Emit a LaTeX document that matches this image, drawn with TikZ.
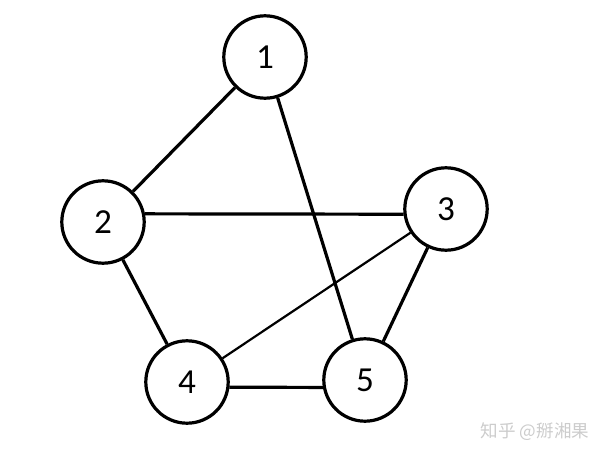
\documentclass[tikz,border=0pt]{standalone}
\usepackage{fontspec}
\setmainfont{Carlito}
\newfontfamily\cjk{Noto Sans CJK SC}
\usepackage{tikz}

\begin{document}
\begin{tikzpicture}[x=0.25mm,y=-0.25mm,
  vertex/.style={draw,circle,line width=0.8mm,minimum size=20.6mm,inner sep=0pt,font=\fontsize{25}{30}\selectfont},
  edge/.style={line width=0.8mm}]
\useasboundingbox (0,0) rectangle (608,458);
\node (n1) [vertex] at (265,57) {1};
\node (n2) [vertex] at (103,222) {2};
\node (n3) [vertex] at (446,209) {3};
\node (n4) [vertex] at (187,382) {4};
\node (n5) [vertex] at (365,380) {5};
\draw[edge] (n1) -- (n2);
\draw[edge] (n1) -- (n5);
\draw[edge] (n2.11) -- (n3.187);
\draw[edge] (n2) -- (n4);
\draw[edge] (n3) -- (n5);
\draw[edge] (n4.-7) -- (n5.190);
\draw[line width=0.55mm] (n3) -- (n4);
% watermark
\node (wm) [text=gray!40,font=\cjk\fontsize{12.5}{14}\selectfont] at (535,432) {知乎 @掰湘果};
\end{tikzpicture}
\end{document}
